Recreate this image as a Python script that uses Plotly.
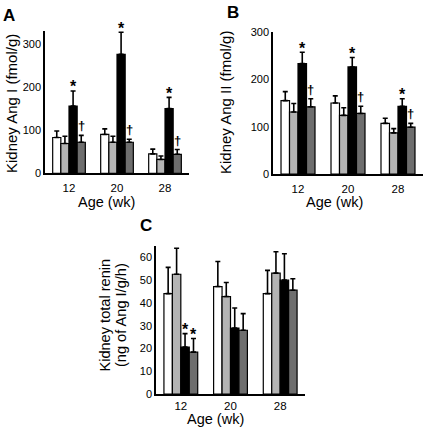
import plotly.graph_objects as go

ages = ["12", "20", "28"]
groups = ["g1", "g2", "g3", "g4"]
colors = ["#ffffff", "#b4b4b4", "#000000", "#6e6e6e"]

# Panel A: Kidney Ang I (fmol/g)
a_vals = [[83, 90, 45], [69, 72, 32], [156, 276, 150], [72, 72, 44]]
a_tops = [[98, 103, 56], [86, 86, 40], [191, 327, 176], [88, 79, 55]]
# Panel B: Kidney Ang II (fmol/g)
b_vals = [[155, 150, 107], [131, 124, 87], [233, 226, 143], [142, 128, 99]]
b_tops = [[174, 165, 118], [149, 140, 96], [257, 246, 159], [159, 143, 107]]
# Panel C: Kidney total renin
c_vals = [[44.1, 47.2, 44.1], [52.6, 42.8, 53.1], [20.6, 29.0, 50.0], [18.4, 28.0, 45.6]]
c_tops = [[55.6, 58.2, 54.3], [64.0, 49.0, 62.5], [26.5, 37.8, 61.6], [24.4, 35.3, 50.6]]

# significance marks: (group index, age index)
a_star = [(2, 0), (2, 1), (2, 2)]
a_dag = [(3, 0), (3, 1), (3, 2)]
b_star = [(2, 0), (2, 1), (2, 2)]
b_dag = [(3, 0), (3, 1), (3, 2)]
c_star = [(2, 0), (3, 0)]

FONT = "Liberation Sans, Arial, Helvetica, sans-serif"
GW = 0.68
BW = GW / 4

fig = go.Figure()
panels = [
    (a_vals, a_tops, "x", "y", a_star, a_dag),
    (b_vals, b_tops, "x2", "y2", b_star, b_dag),
    (c_vals, c_tops, "x3", "y3", c_star, []),
]
ann = []
for vals, tops, xa, ya, stars, dags in panels:
    for gi in range(4):
        v = vals[gi]
        err = [t - x for t, x in zip(tops[gi], v)]
        fig.add_trace(go.Bar(
            x=list(range(len(ages))), y=v, xaxis=xa, yaxis=ya,
            width=BW, offset=-GW / 2 + gi * BW,
            marker=dict(color=colors[gi], line=dict(color="black", width=1.2)),
            error_y=dict(type="data", symmetric=False, array=err,
                         arrayminus=[0] * len(v), color="black",
                         thickness=1.6, width=2.5),
            showlegend=False, name=groups[gi]))
    for gi, ai in stars:
        ann.append(dict(x=ai - GW / 2 + (gi + 0.5) * BW, y=tops[gi][ai],
                        xref=xa, yref=ya, text="<b>*</b>", showarrow=False,
                        yanchor="middle", yshift=4,
                        font=dict(family=FONT, size=16, color="black")))
    for gi, ai in dags:
        ann.append(dict(x=ai - GW / 2 + (gi + 0.5) * BW, y=tops[gi][ai],
                        xref=xa, yref=ya, text="<b>†</b>", showarrow=False,
                        yanchor="bottom", yshift=0,
                        font=dict(family=FONT, size=13, color="black")))

def txt(x, y, s, size, angle=0, bold=False):
    return dict(x=x, y=y, xref="paper", yref="paper",
                text=("<b>%s</b>" % s) if bold else s, showarrow=False,
                textangle=angle, xanchor="center", yanchor="middle",
                font=dict(family=FONT, size=size, color="black"))

ann += [
    txt(0.021, 0.963, "A", 17, bold=True),
    txt(0.543, 0.970, "B", 17, bold=True),
    txt(0.340, 0.476, "C", 17, bold=True),
    txt(0.0256, 0.761, "Kidney Ang I (fmol/g)", 15, -90),
    txt(0.5245, 0.761, "Kidney Ang II (fmol/g)", 15, -90),
    txt(0.246, 0.269, "Kidney total renin", 14.6, -90),
    txt(0.282, 0.269, "(ng of Ang I/g/h)", 14.6, -90),
    txt(0.2494, 0.5313, "Age (wk)", 14.5),
    txt(0.7797, 0.5313, "Age (wk)", 14.5),
    txt(0.5012, 0.0278, "Age (wk)", 14.5),
]

xcommon = dict(range=[-0.5, 2.5], tickvals=[0, 1, 2], ticktext=ages,
               showline=True, linecolor="black", linewidth=1.5,
               showgrid=False, zeroline=False, ticks="",
               automargin=False,
               tickfont=dict(family=FONT, size=11.5, color="black"),
               fixedrange=True)
ycommon = dict(showline=True, linecolor="black", linewidth=1.5,
               showgrid=False, zeroline=False, ticks="", automargin=False,
               tickfont=dict(family=FONT, size=11, color="black"),
               fixedrange=True)

fig.update_layout(
    template="none",
    width=429, height=431, margin=dict(l=0, r=0, t=0, b=0),
    paper_bgcolor="white", plot_bgcolor="white", showlegend=False,
    font=dict(family=FONT, color="black"),
    xaxis=dict(domain=[0.1049, 0.4406], anchor="y", ticklabelstandoff=3, **xcommon),
    yaxis=dict(domain=[0.598, 0.928], anchor="x", range=[0, 330],
               tickvals=[0, 100, 200, 300], **ycommon),
    xaxis2=dict(domain=[0.6364, 0.986], anchor="y2", ticklabelstandoff=3, **xcommon),
    yaxis2=dict(domain=[0.596, 0.926], anchor="x2", range=[0, 300],
                tickvals=[0, 100, 200, 300], **ycommon),
    xaxis3=dict(domain=[0.3636, 0.711], anchor="y3", ticklabelstandoff=0, **xcommon),
    yaxis3=dict(domain=[0.0858, 0.4292], anchor="x3", range=[0, 65],
                tickvals=[0, 10, 20, 30, 40, 50, 60], **ycommon),
    annotations=ann,
)

fig.write_html(
    "out.html",
    config={"displayModeBar": False},
    post_script="document.body.style.margin='0';document.body.style.overflow='hidden';",
)
